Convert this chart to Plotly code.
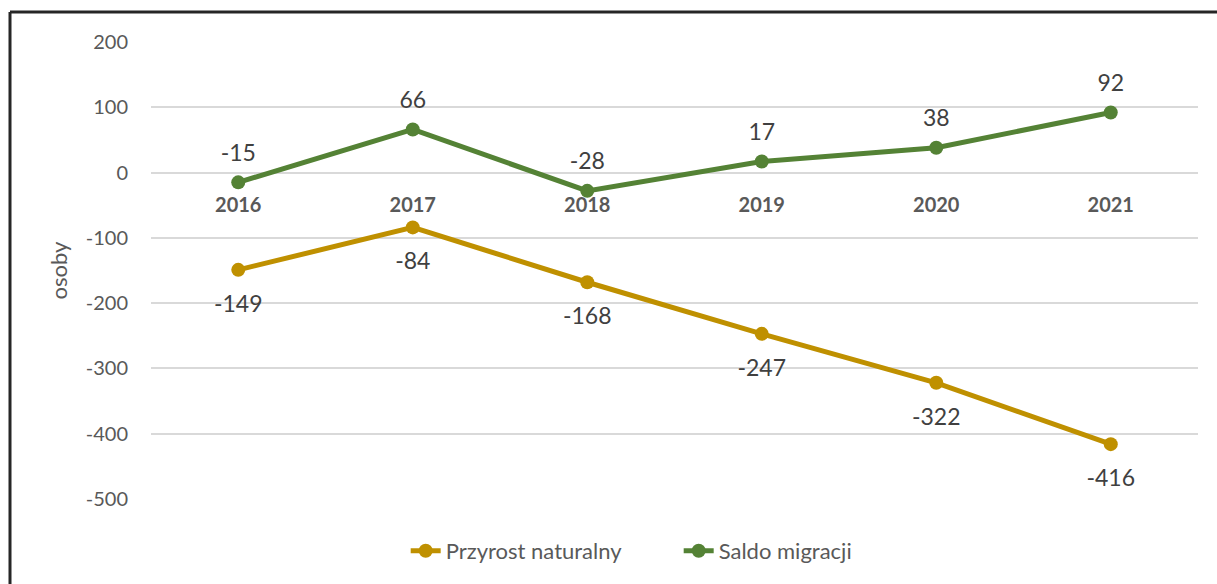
import plotly.graph_objects as go

years = ["2016", "2017", "2018", "2019", "2020", "2021"]
przyrost = [-149, -84, -168, -247, -322, -416]
saldo = [-15, 66, -28, 17, 38, 92]
y_ticks = [200, 100, 0, -100, -200, -300, -400, -500]

GOLD = "#BF9000"
GREEN = "#548235"
TXT = "#595959"
LBL = "#404040"
FONT = "Lato"

fig = go.Figure()
fig.add_trace(go.Scatter(x=years, y=przyrost, name="Przyrost naturalny", mode="lines+markers",
                         line=dict(color=GOLD, width=5), marker=dict(size=14, color=GOLD)))
fig.add_trace(go.Scatter(x=years, y=saldo, name="Saldo migracji", mode="lines+markers",
                         line=dict(color=GREEN, width=5), marker=dict(size=14, color=GREEN)))
# data labels (invisible larger markers push the text away from the points)
fig.add_trace(go.Scatter(x=years, y=przyrost, mode="markers+text", text=[str(v) for v in przyrost],
                         textposition="bottom center", showlegend=False, hoverinfo="skip",
                         marker=dict(size=38, color="rgba(0,0,0,0)"),
                         textfont=dict(size=23, color=LBL, family=FONT)))
fig.add_trace(go.Scatter(x=years, y=saldo, mode="markers+text", text=[str(v) for v in saldo],
                         textposition="top center", showlegend=False, hoverinfo="skip",
                         marker=dict(size=24, color="rgba(0,0,0,0)"),
                         textfont=dict(size=23, color=LBL, family=FONT)))

W, H = 1217, 584
L, R, T, B = 151, 19, 42, 85
pw, ph = W - L - R, H - T - B
def px(x): return (x - L) / pw
def py(y): return (H - B - y) / ph

shapes = [
    dict(type="line", xref="paper", yref="paper", x0=px(10), x1=px(1240), y0=py(12), y1=py(12),
         line=dict(color="#262626", width=3)),
    dict(type="line", xref="paper", yref="paper", x0=px(10), x1=px(10), y0=py(12), y1=py(620),
         line=dict(color="#262626", width=3)),
]

ymin, ymax = -500, 200
fig.update_layout(
    width=W, height=H,
    margin=dict(l=L, r=R, t=T, b=B),
    paper_bgcolor="white", plot_bgcolor="white",
    font=dict(family=FONT, color=TXT, size=18),
    showlegend=True,
    legend=dict(orientation="h", x=0.504, xanchor="center", y=py(551), yanchor="middle",
                entrywidth=228, font=dict(size=22, color=TXT, family=FONT)),
    xaxis=dict(type="category", range=[-0.5, 5.5], anchor="free",
               position=(0 - ymin) / (ymax - ymin), showgrid=False, showline=False,
               zeroline=False, ticks="", ticklabelstandoff=18,
               tickfont=dict(size=20, color=TXT, family=FONT, weight="bold")),
    yaxis=dict(range=[ymin, ymax], tickvals=y_ticks, ticktext=[str(v) for v in y_ticks],
               showgrid=True, gridcolor="#D9D9D9",
               gridwidth=2, zeroline=False, showline=False, ticks="", ticklabelstandoff=22,
               tickfont=dict(size=20, color=TXT, family=FONT),
               title=dict(text="osoby", font=dict(size=22, color=TXT, family=FONT), standoff=12)),
    shapes=shapes,
)

fig.write_html("out.html", config={"displayModeBar": False},
               post_script="document.body.style.margin='0';document.body.style.overflow='hidden';")
